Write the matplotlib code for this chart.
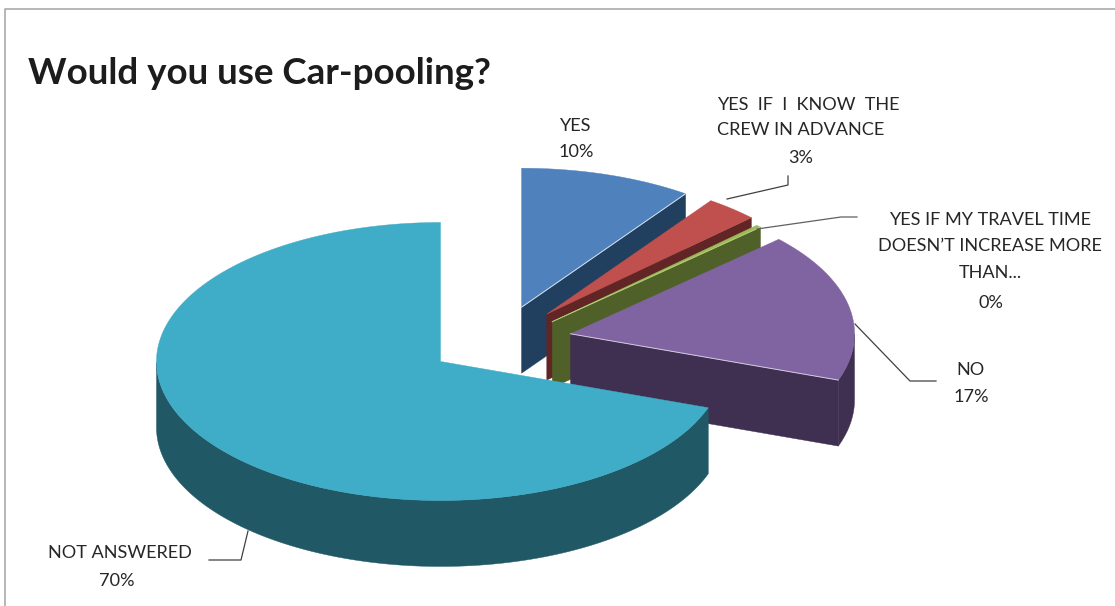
import numpy as np
import matplotlib
matplotlib.use("Agg")
import matplotlib.pyplot as plt

plt.rcParams['font.family'] = ['Lato', 'DejaVu Sans']

# survey answers, percent, clockwise from twelve o'clock
answers = ["YES", "YES IF I KNOW THE CREW IN ADVANCE",
           "YES IF MY TRAVEL TIME DOESN\u2019T INCREASE MORE THAN...",
           "NO", "NOT ANSWERED"]
shares = [9.8, 3.0, 0.3, 17.3, 69.6]

top_colors = ["#4F81BD", "#C0504D", "#9BBB59", "#8064A2", "#3FACC8"]
side_colors = ["#213F5E", "#602524", "#4F6028", "#3F2F50", "#215865"]

# pie geometry in pixels
CX, CY = 499.6, 341.0
RX, RY = 284.0, 139.0
DEPTH = 66.0
EXPLODE = 0.255
# the thin slice sits a little lower than its explode offset gives
drops = [0, 0, 5, 0, 0]


def rim(cx, cy, a0, a1, n=120):
    t = np.radians(np.linspace(a0, a1, n))
    return cx + RX * np.cos(t), cy - RY * np.sin(t)


def draw_slice(ax, start, stop, top, side, drop, edge):
    # start/stop are math angles in degrees with stop < start (running clockwise)
    mid = np.radians((start + stop) / 2)
    cx = CX + EXPLODE * RX * np.cos(mid)
    cy = CY - EXPLODE * RY * np.sin(mid) + drop

    # cut faces, only the ones turned towards the viewer
    for ang, sign in ((start, -1), (stop, 1)):
        facing = sign * np.cos(np.radians(ang))
        if facing > 1e-6:
            ex, ey = rim(cx, cy, ang, ang, 1)
            ax.fill([cx, ex[0], ex[0], cx], [cy, ey[0], ey[0] + DEPTH, cy + DEPTH],
                    color=side, lw=0.3, zorder=1)

    # outer wall for the part of the arc on the front half
    a = np.linspace(start, stop, 400)
    front = a[np.sin(np.radians(a)) <= 0]
    if len(front) > 1:
        fx, fy = rim(cx, cy, front[0], front[-1], len(front))
        ax.fill(np.r_[fx, fx[::-1]], np.r_[fy, fy[::-1] + DEPTH],
                color=side, lw=0.3, zorder=1)

    # top face
    ax_, ay_ = rim(cx, cy, start, stop, 300)
    ax.fill(np.r_[cx, ax_], np.r_[cy, ay_], color=top, lw=0.3, zorder=2)

    # thin light edge along the clockwise cut
    if edge:
        ex, ey = rim(cx, cy, stop, stop, 1)
        ax.plot([cx, ex[0]], [cy, ey[0]], color=edge, lw=0.7, zorder=3)


def main():
    fig = plt.figure(figsize=(11.15, 6.06), dpi=100)
    ax = fig.add_axes([0, 0, 1, 1])
    ax.set_xlim(0, 1115)
    ax.set_ylim(606, 0)
    ax.axis("off")

    # chart border, only top and left are in frame
    ax.plot([5, 5, 1115], [606, 8.5, 8.5], color="#A3A3A3", lw=1.1)

    edges = ["#D8E4F0", None, "#B5D07A", "#D5CBE0", None]
    ang = 90.0
    for share, top, side, drop, edge in zip(shares, top_colors, side_colors, drops, edges):
        stop = ang - share * 3.6
        draw_slice(ax, ang, stop, top, side, drop, edge)
        ang = stop

    # leader lines
    leaders = [([727, 788, 788], [199, 185, 176], "#404040"),
               ([757, 841, 857], [229, 217, 217], "#606060"),
               ([855, 910, 936], [324, 381, 381], "#404040"),
               ([248, 241, 209], [531, 560, 560], "#404040")]
    for xs, ys, col in leaders:
        ax.plot(xs, ys, color=col, lw=0.9, zorder=4)

    txt = dict(fontsize=13.1, color="#262626", va="center", ha="center", zorder=5)
    pct = [f"{v:.0f}%" for v in shares]

    ax.text(575, 126, answers[0], **txt)
    ax.text(576, 152, pct[0], **txt)

    ax.text(717, 105, "YES  IF  I  KNOW  THE", **{**txt, "ha": "left"})
    ax.text(717, 130, "CREW IN ADVANCE", **{**txt, "ha": "left"})
    ax.text(801, 158, pct[1], **txt)

    ax.text(990, 220, "YES IF MY TRAVEL TIME", **txt)
    ax.text(990, 246, "DOESN\u2019T INCREASE MORE", **txt)
    ax.text(990, 273, "THAN...", **txt)
    ax.text(991, 303, pct[2], **txt)

    ax.text(970, 370, answers[3], **txt)
    ax.text(971, 397, pct[3], **txt)

    ax.text(120, 553, answers[4], **txt)
    ax.text(117, 581, pct[4], **txt)

    ax.text(28, 84, "Would you use Car-pooling?", fontsize=26.5, fontweight="bold",
            color="#1C1C1C", va="baseline", ha="left")

    fig.savefig("out.png", dpi=100, facecolor="white")


if __name__ == "__main__":
    main()
